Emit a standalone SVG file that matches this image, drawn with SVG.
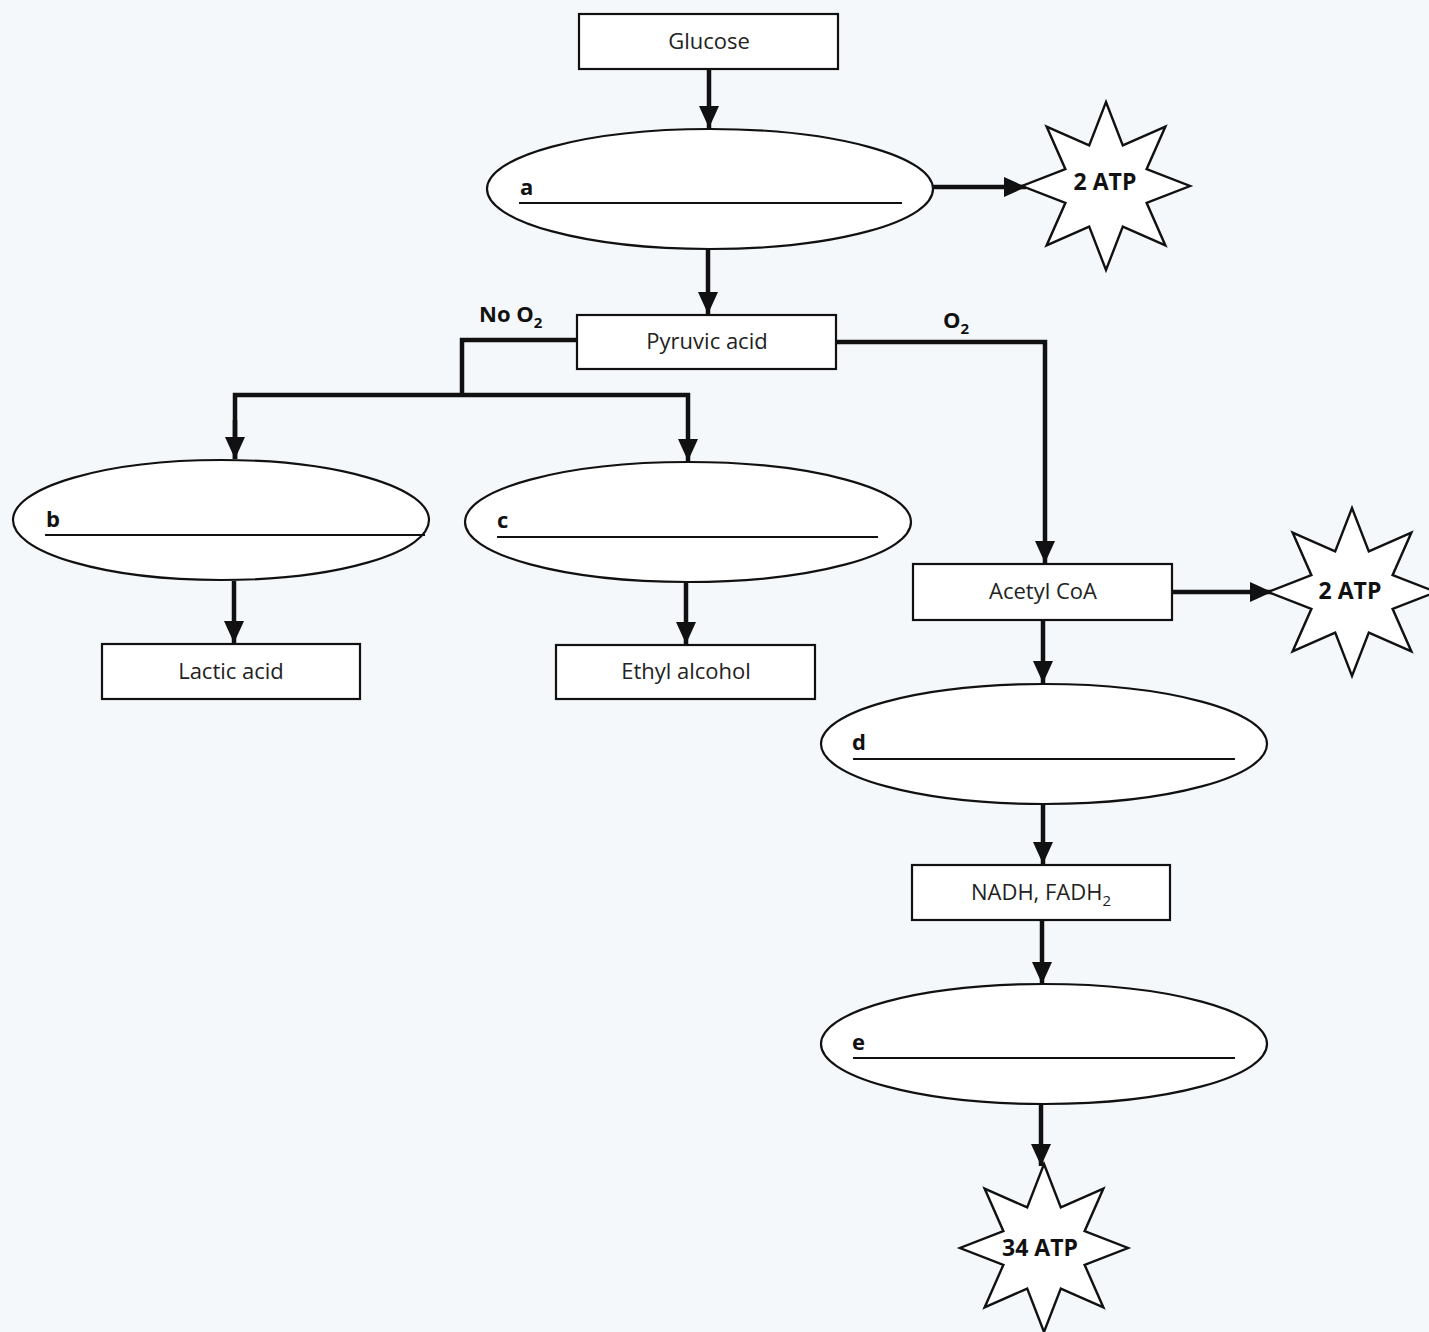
<svg xmlns="http://www.w3.org/2000/svg" width="1429" height="1332" viewBox="0 0 1429 1332">
<style>
.box{fill:#fff;stroke:#111;stroke-width:2.2}
.ell{fill:#fff;stroke:#111;stroke-width:2.2}
.blank{stroke:#111;stroke-width:2.2}
.star{fill:#fff;stroke:#111;stroke-width:2.4;stroke-linejoin:miter}
.t{font-family:"Open Sans","Noto Sans","Liberation Sans",sans-serif;font-size:22px;fill:#222;text-anchor:middle}
.b{font-family:"Open Sans","Noto Sans","Liberation Sans",sans-serif;font-size:22px;font-weight:bold;fill:#111}
.st{font-family:"Open Sans","Noto Sans","Liberation Sans",sans-serif;font-size:23px;font-weight:bold;fill:#111;text-anchor:middle}
.c{fill:none;stroke:#111;stroke-width:4.5}
</style>
<defs>
<marker id="ah" markerUnits="userSpaceOnUse" markerWidth="24" markerHeight="24" viewBox="0 0 24 24" refX="22" refY="12" orient="auto">
<path d="M0,2 L22,12 L0,22 Z" fill="#111"/>
</marker>
<polygon id="starShape" points="0,-84 16.8,-40.6 59.4,-59.4 40.6,-16.8 84,0 40.6,16.8 59.4,59.4 16.8,40.6 0,84 -16.8,40.6 -59.4,59.4 -40.6,16.8 -84,0 -40.6,-16.8 -59.4,-59.4 -16.8,-40.6"/>
</defs>
<rect width="1429" height="1332" fill="#f5f8fb"/>

<g id="connectors">
<line class="c" x1="709" y1="70" x2="709" y2="128" marker-end="url(#ah)"/>
<line class="c" x1="933" y1="187" x2="1026" y2="187" marker-end="url(#ah)"/>
<line class="c" x1="708" y1="250" x2="708" y2="314" marker-end="url(#ah)"/>
<polyline class="c" points="577,340 462,340 462,395"/>
<polyline class="c" points="235,459 235,395 688,395 688,461" marker-end="url(#ah)"/>
<line class="c" x1="235" y1="420" x2="235" y2="459" marker-end="url(#ah)"/>
<polyline class="c" points="836,342 1045,342 1045,563" marker-end="url(#ah)"/>
<line class="c" x1="234" y1="581" x2="234" y2="643" marker-end="url(#ah)"/>
<line class="c" x1="686" y1="583" x2="686" y2="644" marker-end="url(#ah)"/>
<line class="c" x1="1172" y1="592" x2="1272" y2="592" marker-end="url(#ah)"/>
<line class="c" x1="1043" y1="621" x2="1043" y2="683" marker-end="url(#ah)"/>
<line class="c" x1="1043" y1="805" x2="1043" y2="864" marker-end="url(#ah)"/>
<line class="c" x1="1042" y1="921" x2="1042" y2="984" marker-end="url(#ah)"/>
<line class="c" x1="1041" y1="1105" x2="1041" y2="1166" marker-end="url(#ah)"/>
<text class="b" x="479" y="322">No O<tspan font-size="15" dy="6">2</tspan></text>
<text class="b" x="943" y="328">O<tspan font-size="15" dy="6">2</tspan></text>
</g>

<g id="glucose">
<rect class="box" x="579" y="14" width="259" height="55"/>
<text class="t" x="709" y="49">Glucose</text>
</g>

<g id="a">
<ellipse class="ell" cx="710" cy="189" rx="223" ry="60"/>
<text class="b" x="520" y="195">a</text>
<line class="blank" x1="519" y1="203" x2="902" y2="203"/>
</g>

<g id="atp1">
<use href="#starShape" class="star" transform="translate(1106,186)"/>
<text class="st" x="1105" y="190">2 ATP</text>
</g>

<g id="pyruvic">
<rect class="box" x="577" y="315" width="259" height="54"/>
<text class="t" x="707" y="349">Pyruvic acid</text>
</g>

<g id="b">
<ellipse class="ell" cx="221" cy="520" rx="208" ry="60"/>
<text class="b" x="46" y="527">b</text>
<line class="blank" x1="45" y1="535" x2="425" y2="535"/>
</g>

<g id="c">
<ellipse class="ell" cx="688" cy="522" rx="223" ry="60"/>
<text class="b" x="497" y="528">c</text>
<line class="blank" x1="497" y1="537" x2="878" y2="537"/>
</g>

<g id="lactic">
<rect class="box" x="102" y="644" width="258" height="55"/>
<text class="t" x="231" y="679">Lactic acid</text>
</g>

<g id="ethyl">
<rect class="box" x="556" y="645" width="259" height="54"/>
<text class="t" x="686" y="679">Ethyl alcohol</text>
</g>

<g id="acetyl">
<rect class="box" x="913" y="564" width="259" height="56"/>
<text class="t" x="1043" y="599">Acetyl CoA</text>
</g>

<g id="atp2">
<use href="#starShape" class="star" transform="translate(1352,592)"/>
<text class="st" x="1350" y="599">2 ATP</text>
</g>

<g id="d">
<ellipse class="ell" cx="1044" cy="744" rx="223" ry="60"/>
<text class="b" x="852" y="750">d</text>
<line class="blank" x1="853" y1="759" x2="1235" y2="759"/>
</g>

<g id="nadh">
<rect class="box" x="912" y="865" width="258" height="55"/>
<text class="t" x="1041" y="900">NADH, FADH<tspan font-size="15" dy="6">2</tspan></text>
</g>

<g id="e">
<ellipse class="ell" cx="1044" cy="1044" rx="223" ry="60"/>
<text class="b" x="852" y="1050">e</text>
<line class="blank" x1="853" y1="1058" x2="1235" y2="1058"/>
</g>

<g id="atp3">
<use href="#starShape" class="star" transform="translate(1044,1248)"/>
<text class="st" x="1040" y="1256">34 ATP</text>
</g>
</svg>
